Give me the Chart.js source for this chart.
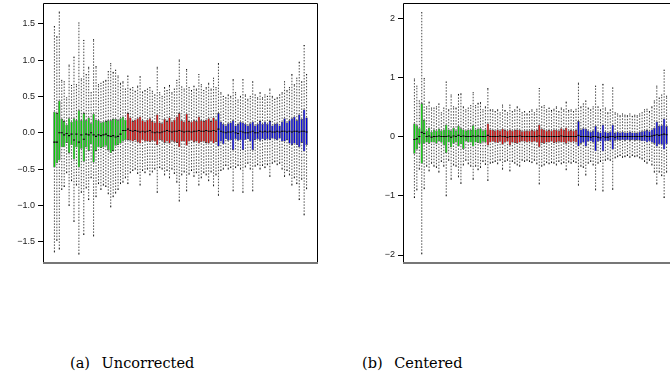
<!DOCTYPE html>
<html>
<head>
<meta charset="utf-8">
<script src="https://cdn.jsdelivr.net/npm/chart.js@4/dist/chart.umd.min.js"></script>
<style>
  html, body { margin: 0; padding: 0; background: #fff; width: 670px; height: 374px; overflow: hidden; }
  .panel { position: absolute; top: 0; width: 330px; height: 270px; }
  #wrapA { left: 0; }
  #wrapB { left: 360px; }
  .cap { position: absolute; top: 355px; font-family: "DejaVu Serif", serif; font-size: 14.5px; line-height: 17px; color: #000; white-space: nowrap; }
  .cap .tag { margin-right: 7px; }
</style>
</head>
<body>
<div class="panel" id="wrapA"><canvas id="chartA" width="330" height="270"></canvas></div>
<div class="panel" id="wrapB"><canvas id="chartB" width="330" height="270"></canvas></div>
<div class="cap" style="left:70px"><span class="tag">(a)</span> Uncorrected</div>
<div class="cap" style="left:362px"><span class="tag">(b)</span> Centered</div>
<script>
// Three sample groups, drawn left to right in their own colour
const groupNames = ['group 1', 'group 2', 'group 3'];
const groupSizes = [30, 37, 37];
const groupColors = ['#00CD00', '#D00000', '#0000D8'];

// (a) Uncorrected: whisker ends, quartiles and medians per sample
const uncLow = [
  -1.64,-1.48,-1.60,-0.78,-0.74,-0.55,-1.00,-0.66,-1.22,-0.72,-1.67,-0.82,-1.40,-0.76,-0.92,
  -0.62,-1.42,-0.88,-0.70,-0.78,-0.72,-0.74,-0.84,-1.02,-0.88,-0.83,-0.78,-0.70,-0.68,-0.62,
  -0.70,-0.55,-0.52,-0.50,-0.56,-0.72,-0.52,-0.55,-0.50,-0.58,-0.54,-0.50,-0.82,-0.48,-0.50,
  -0.58,-0.52,-0.62,-0.50,-0.56,-0.68,-0.94,-0.58,-0.54,-0.80,-0.57,-0.52,-0.60,-0.55,-0.72,
  -0.62,-0.55,-0.58,-0.66,-0.54,-0.73,-0.58,
  -0.86,-0.52,-0.50,-0.45,-0.50,-0.48,-0.80,-0.48,-0.45,-0.50,-0.82,-0.47,-0.42,-0.50,-0.80,
  -0.46,-0.44,-0.50,-0.45,-0.48,-0.44,-0.60,-0.42,-0.40,-0.44,-0.42,-0.50,-0.60,-0.52,-0.58,
  -0.72,-0.62,-0.70,-0.92,-0.64,-1.13,-0.77
];
const uncQ1 = [
  -0.48,-0.42,-0.38,-0.20,-0.20,-0.14,-0.28,-0.17,-0.37,-0.20,-0.48,-0.22,-0.40,-0.20,-0.25,
  -0.16,-0.41,-0.25,-0.20,-0.21,-0.20,-0.18,-0.24,-0.28,-0.25,-0.18,-0.17,-0.15,-0.12,-0.10,
  -0.10,-0.11,-0.12,-0.10,-0.13,-0.15,-0.10,-0.12,-0.12,-0.13,-0.11,-0.12,-0.17,-0.10,-0.11,
  -0.14,-0.12,-0.15,-0.11,-0.13,-0.14,-0.20,-0.12,-0.12,-0.18,-0.12,-0.11,-0.13,-0.12,-0.15,
  -0.13,-0.12,-0.14,-0.15,-0.12,-0.15,-0.13,
  -0.19,-0.12,-0.16,-0.09,-0.11,-0.10,-0.24,-0.09,-0.11,-0.10,-0.24,-0.10,-0.09,-0.12,-0.24,
  -0.10,-0.09,-0.11,-0.09,-0.10,-0.09,-0.10,-0.08,-0.09,-0.10,-0.08,-0.12,-0.12,-0.10,-0.15,
  -0.17,-0.15,-0.17,-0.20,-0.14,-0.26,-0.17
];
const uncMed = [
  -0.13,-0.13,0.00,0.00,-0.03,-0.01,-0.04,-0.02,-0.10,-0.02,-0.13,-0.03,-0.09,-0.02,-0.03,
  0.00,-0.03,-0.05,-0.03,-0.04,-0.03,-0.02,-0.04,-0.05,-0.04,-0.06,-0.05,-0.02,0.03,0.03,
  0.05,0.03,0.02,0.03,0.02,0.01,0.02,0.01,0.02,0.03,0.01,0.00,0.01,0.00,0.01,
  0.02,0.03,0.02,0.01,0.02,0.02,0.03,0.02,0.01,0.02,0.02,0.01,0.02,0.02,0.03,
  0.02,0.02,0.03,0.02,0.02,0.03,0.02,
  0.05,0.02,0.01,0.00,0.01,0.01,0.02,0.00,-0.01,0.02,0.01,0.00,0.00,0.01,0.02,
  0.00,0.00,0.02,0.01,0.02,0.01,0.02,0.01,0.01,0.02,0.01,0.02,0.02,0.01,0.02,
  0.01,0.02,0.02,0.01,0.02,0.02,0.01
];
const uncQ3 = [
  0.29,0.27,0.44,0.19,0.16,0.11,0.20,0.15,0.20,0.17,0.31,0.17,0.27,0.17,0.21,
  0.13,0.26,0.18,0.17,0.14,0.15,0.16,0.17,0.17,0.19,0.19,0.17,0.20,0.22,0.18,
  0.27,0.21,0.16,0.18,0.20,0.22,0.17,0.15,0.18,0.20,0.16,0.14,0.25,0.14,0.13,
  0.19,0.16,0.21,0.15,0.18,0.22,0.27,0.17,0.15,0.26,0.16,0.15,0.17,0.16,0.22,
  0.17,0.16,0.18,0.20,0.16,0.21,0.17,
  0.27,0.15,0.12,0.10,0.13,0.14,0.17,0.10,0.12,0.15,0.14,0.12,0.10,0.13,0.15,
  0.10,0.12,0.16,0.12,0.15,0.12,0.16,0.10,0.12,0.13,0.10,0.15,0.20,0.14,0.17,
  0.20,0.22,0.17,0.25,0.19,0.32,0.21
];
const uncHigh = [
  1.46,1.32,1.66,0.72,0.70,0.48,0.93,0.65,1.04,0.66,1.51,0.74,1.27,0.80,0.90,
  0.55,1.28,0.91,0.66,0.68,0.70,0.72,0.84,0.95,0.83,0.86,0.78,0.68,0.70,0.60,
  0.78,0.60,0.62,0.57,0.64,0.77,0.56,0.58,0.60,0.62,0.57,0.52,0.90,0.55,0.50,
  0.62,0.58,0.65,0.55,0.60,0.72,1.00,0.63,0.60,0.87,0.62,0.58,0.64,0.60,0.80,
  0.66,0.58,0.62,0.68,0.60,0.75,0.62,
  0.95,0.55,0.50,0.48,0.52,0.50,0.73,0.55,0.45,0.50,0.73,0.52,0.46,0.50,0.70,
  0.52,0.48,0.55,0.48,0.52,0.50,0.60,0.50,0.46,0.48,0.52,0.55,0.70,0.58,0.62,
  0.80,0.66,0.75,0.97,0.70,1.20,0.80
];

// (b) Centered
const cenLow = [
  -1.03,-0.90,-0.55,-1.98,-0.88,-0.50,-0.58,-0.45,-0.50,-0.52,-0.60,-0.42,-0.50,-1.00,-0.40,
  -0.72,-0.48,-0.50,-0.68,-0.79,-0.48,-0.40,-0.46,-0.50,-0.72,-0.50,-0.56,-0.52,-0.42,-0.47,
  -0.74,-0.45,-0.44,-0.42,-0.46,-0.40,-0.55,-0.42,-0.40,-0.58,-0.42,-0.45,-0.48,-0.50,-0.40,
  -0.42,-0.40,-0.42,-0.44,-0.40,-0.46,-0.80,-0.50,-0.48,-0.44,-0.46,-0.44,-0.45,-0.48,-0.42,
  -0.46,-0.44,-0.56,-0.43,-0.45,-0.42,-0.44,
  -0.82,-0.50,-0.52,-0.65,-0.45,-0.42,-0.48,-0.90,-0.45,-0.42,-0.92,-0.40,-0.38,-0.40,-0.89,
  -0.36,-0.34,-0.32,-0.35,-0.34,-0.32,-0.35,-0.32,-0.34,-0.33,-0.36,-0.38,-0.42,-0.45,-0.40,
  -0.48,-0.60,-0.80,-0.60,-0.66,-1.03,-0.60
];
const cenQ1 = [
  -0.29,-0.22,-0.12,-0.46,-0.12,-0.10,-0.12,-0.10,-0.10,-0.12,-0.08,-0.10,-0.15,-0.28,-0.10,
  -0.18,-0.12,-0.10,-0.17,-0.13,-0.21,-0.08,-0.10,-0.10,-0.17,-0.10,-0.11,-0.12,-0.09,-0.10,
  -0.15,-0.10,-0.09,-0.10,-0.11,-0.09,-0.14,-0.10,-0.09,-0.15,-0.10,-0.11,-0.12,-0.10,-0.08,
  -0.09,-0.10,-0.09,-0.10,-0.09,-0.10,-0.18,-0.11,-0.12,-0.10,-0.10,-0.09,-0.11,-0.10,-0.09,
  -0.10,-0.10,-0.12,-0.09,-0.10,-0.09,-0.10,
  -0.17,-0.12,-0.10,-0.17,-0.09,-0.08,-0.10,-0.25,-0.09,-0.08,-0.25,-0.08,-0.08,-0.07,-0.22,
  -0.07,-0.06,-0.07,-0.06,-0.07,-0.06,-0.07,-0.06,-0.07,-0.06,-0.07,-0.08,-0.08,-0.10,-0.08,
  -0.10,-0.12,-0.17,-0.13,-0.14,-0.22,-0.13
];
const cenMed = [
  -0.05,-0.04,0.00,0.07,0.05,0.00,0.01,-0.01,0.00,0.00,0.01,0.00,0.00,0.00,0.01,
  -0.01,0.01,0.00,0.02,0.00,0.01,0.00,0.00,0.00,0.01,0.00,0.01,0.00,0.00,0.00,
  0.02,0.00,0.00,0.00,0.00,0.01,0.00,0.00,-0.01,0.00,0.00,0.00,0.00,0.01,0.00,
  0.00,0.00,0.00,0.00,0.00,0.00,0.01,0.00,0.00,0.00,0.00,0.00,0.00,0.00,0.00,
  0.01,0.00,0.00,0.00,0.00,0.00,0.00,
  0.02,0.00,0.00,0.00,0.00,-0.01,0.00,0.00,-0.01,-0.02,0.00,-0.01,-0.01,0.00,0.00,
  -0.01,0.00,0.00,0.00,0.00,0.00,0.00,0.00,0.00,0.00,0.00,0.00,0.01,0.00,0.00,
  0.01,0.02,0.03,0.02,0.03,0.04,0.03
];
const cenQ3 = [
  0.22,0.19,0.14,0.56,0.28,0.10,0.15,0.08,0.12,0.10,0.13,0.10,0.12,0.20,0.12,
  0.10,0.15,0.10,0.18,0.14,0.12,0.10,0.12,0.11,0.19,0.12,0.13,0.14,0.10,0.12,
  0.22,0.12,0.11,0.10,0.12,0.10,0.13,0.11,0.10,0.12,0.10,0.11,0.12,0.11,0.09,
  0.10,0.10,0.10,0.11,0.10,0.11,0.20,0.13,0.12,0.10,0.11,0.10,0.12,0.11,0.10,
  0.14,0.11,0.15,0.10,0.11,0.10,0.11,
  0.26,0.12,0.14,0.13,0.10,0.08,0.10,0.18,0.08,0.07,0.20,0.08,0.07,0.08,0.20,
  0.06,0.08,0.07,0.08,0.07,0.07,0.08,0.07,0.07,0.06,0.08,0.09,0.10,0.11,0.09,
  0.12,0.15,0.25,0.18,0.19,0.30,0.18
];
const cenHigh = [
  0.97,0.85,0.60,2.09,0.98,0.50,0.58,0.48,0.48,0.50,0.55,0.40,0.48,0.92,0.45,
  0.70,0.50,0.48,0.71,0.72,0.50,0.45,0.48,0.52,0.74,0.52,0.56,0.57,0.45,0.50,
  0.81,0.45,0.45,0.42,0.45,0.40,0.53,0.44,0.40,0.53,0.42,0.45,0.50,0.46,0.40,
  0.42,0.38,0.42,0.45,0.40,0.46,0.81,0.50,0.52,0.45,0.48,0.44,0.46,0.50,0.42,
  0.48,0.45,0.58,0.44,0.45,0.42,0.46,
  0.90,0.50,0.55,0.60,0.48,0.45,0.50,0.85,0.50,0.45,0.88,0.48,0.40,0.45,0.82,
  0.40,0.38,0.35,0.38,0.36,0.35,0.38,0.34,0.36,0.35,0.38,0.40,0.45,0.46,0.42,
  0.50,0.60,0.85,0.65,0.70,1.12,0.68
];

// Y-axis tick values and their printed labels
const uncTickValues = [-1.5, -1.0, -0.5, 0.0, 0.5, 1.0, 1.5];
const uncTickLabels = ['\u22121.5', '\u22121.0', '\u22120.5', '0.0', '0.5', '1.0', '1.5'];
const cenTickValues = [-2, -1, 0, 1, 2];
const cenTickLabels = ['\u22122', '\u22121', '0', '1', '2'];

// Plain box frame around the plotting region
const framePlugin = {
  id: 'frame',
  afterDraw(chart) {
    const { ctx, chartArea: a } = chart;
    ctx.save();
    ctx.strokeStyle = '#000';
    ctx.lineWidth = 1;
    ctx.beginPath();
    ctx.moveTo(a.left + 0.5, a.bottom);
    ctx.lineTo(a.left + 0.5, a.top + 0.5);
    ctx.lineTo(a.right - 0.5, a.top + 0.5);
    ctx.lineTo(a.right - 0.5, a.bottom);
    ctx.stroke();
    ctx.strokeStyle = '#777';
    ctx.lineWidth = 2;
    ctx.beginPath();
    ctx.moveTo(a.left, a.bottom);
    ctx.lineTo(a.right, a.bottom);
    ctx.stroke();
    ctx.restore();
  }
};

function boxplot(canvasId, low, q1, med, q3, high, yMin, yMax, tickValues, tickLabels) {
  const n = med.length;
  const colors = [];
  groupSizes.forEach((size, g) => { for (let k = 0; k < size; k++) colors.push(groupColors[g]); });

  const positions = [], boxes = [], whiskers = [], staples = [], medians = [];
  for (let i = 0; i < n; i++) {
    const x = i + 1;
    positions.push(x);
    boxes.push({ x, y: [q1[i], q3[i]] });
    whiskers.push(
      { x, y: low[i] }, { x, y: q1[i] }, { x, y: null },
      { x, y: q3[i] }, { x, y: high[i] }, { x, y: null }
    );
    staples.push(
      { x: x - 0.2, y: low[i] }, { x: x + 0.2, y: low[i] }, { x, y: null },
      { x: x - 0.2, y: high[i] }, { x: x + 0.2, y: high[i] }, { x: x + 0.2, y: null }
    );
    medians.push({ x: x - 0.42, y: med[i] }, { x: x + 0.42, y: med[i] }, { x: x + 0.42, y: null });
  }
  const pad = 0.04 * n;

  return new Chart(document.getElementById(canvasId), {
    type: 'bar',
    data: {
      datasets: [
        { type: 'line', data: medians, borderColor: '#000', borderWidth: 1.1, pointRadius: 0, spanGaps: false, order: 0 },
        { type: 'line', data: staples, borderColor: '#000', borderWidth: 1, pointRadius: 0, spanGaps: false, order: 1 },
        { type: 'bar', data: boxes, backgroundColor: colors, borderColor: '#111', borderWidth: 0.55,
          borderSkipped: false, categoryPercentage: 0.95, barPercentage: 1, order: 2 },
        { type: 'line', data: whiskers, borderColor: '#3a3a3a', borderWidth: 0.9, borderDash: [1.5, 1.5],
          pointRadius: 0, spanGaps: false, order: 3 }
      ]
    },
    options: {
      responsive: false,
      animation: false,
      events: [],
      devicePixelRatio: 1,
      layout: { padding: { left: 0, right: 12, top: 3, bottom: 7 } },
      plugins: { legend: { display: false }, tooltip: { enabled: false } },
      scales: {
        x: {
          type: 'linear', display: false, offset: false,
          min: 0.5 - pad, max: n + 0.5 + pad,
          afterBuildTicks: s => { s.ticks = positions.map(v => ({ value: v })); }
        },
        y: {
          min: yMin, max: yMax,
          afterBuildTicks: s => { s.ticks = tickValues.map(v => ({ value: v })); },
          afterFit: s => { s.width = 43; s.paddingTop = 0; s.paddingBottom = 0; },
          ticks: {
            autoSkip: false,
            padding: 3,
            color: '#222',
            font: { family: 'Liberation Sans', size: 9 },
            callback: (v, i) => tickLabels[i]
          },
          grid: { drawOnChartArea: false, drawTicks: true, tickLength: 5, color: '#000', lineWidth: 1 },
          border: { display: false }
        }
      }
    },
    plugins: [framePlugin]
  });
}

boxplot('chartA', uncLow, uncQ1, uncMed, uncQ3, uncHigh, -1.793, 1.785, uncTickValues, uncTickLabels);
boxplot('chartB', cenLow, cenQ1, cenMed, cenQ3, cenHigh, -2.135, 2.254, cenTickValues, cenTickLabels);
</script>
</body>
</html>
